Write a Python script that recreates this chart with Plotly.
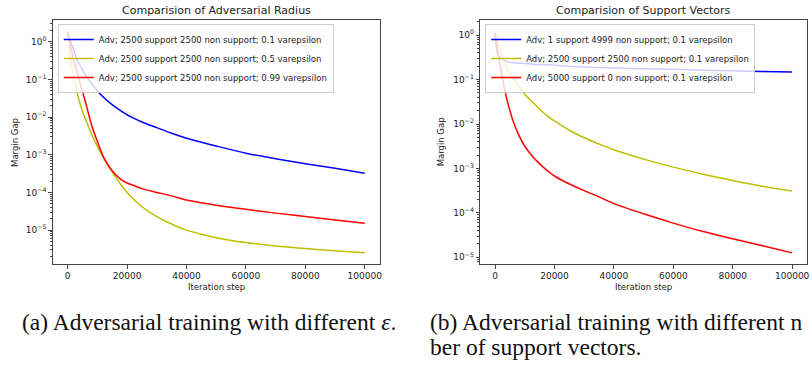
import plotly.graph_objects as go

# ---------------- data ----------------
steps_a = [0, 1000, 2000, 3000, 4000, 5000, 6000, 8000, 10000, 12000, 14000, 16000,
           18000, 20000, 22000, 25000, 30000, 35000, 40000, 45000, 50000, 60000, 70000, 80000,
           90000, 100000]
gap_a_eps01 = [1.8, 1.0, 0.631, 0.355, 0.251, 0.178, 0.132, 0.0794, 0.0501, 0.0339, 0.0245, 0.0186,
               0.0145, 0.0115, 0.0095, 0.00741, 0.00525, 0.00372, 0.00275, 0.00215, 0.0017, 0.0011,
               0.00078, 0.000575, 0.000437, 0.000324]
gap_a_eps05 = [1.8, 0.316, 0.126, 0.0501, 0.0251, 0.0141, 0.00891, 0.00355, 0.00166, 0.000832,
               0.000468, 0.000263, 0.000158, 0.0001, 6.8e-5, 4.17e-5, 2.29e-5, 1.45e-5, 1.0e-5,
               7.8e-6, 6.3e-6, 4.68e-6, 3.8e-6, 3.24e-6, 2.82e-6, 2.51e-6]
gap_a_eps099 = [1.8, 0.794, 0.316, 0.178, 0.0891, 0.0468, 0.0251, 0.00631, 0.00224, 0.000891,
                0.000479, 0.000302, 0.000219, 0.000178, 0.000155, 0.000126, 0.0001, 8.1e-5, 6.3e-5,
                5.3e-5, 4.57e-5, 3.55e-5, 2.82e-5, 2.29e-5, 1.86e-5, 1.51e-5]

steps_b = [0, 500, 1000, 2000, 3000, 4000, 5000, 6000, 8000, 10000, 12000, 14000, 16000, 18000,
           20000, 25000, 30000, 35000, 40000, 50000, 60000, 70000, 80000, 90000, 100000]
gap_b_sv1 = [1.1, 0.501, 0.355, 0.295, 0.269, 0.257, 0.245, 0.240, 0.234, 0.229, 0.224, 0.219,
             0.216, 0.214, 0.209, 0.2, 0.191, 0.186, 0.182, 0.174, 0.17, 0.162, 0.158, 0.151, 0.148]
gap_b_sv2500 = [1.1, 0.832, 0.631, 0.398, 0.263, 0.186, 0.141, 0.11, 0.0708, 0.0468, 0.0339, 0.0251,
                0.0186, 0.0145, 0.0117, 0.00724, 0.0049, 0.00355, 0.00263, 0.00162, 0.00107,
                0.000741, 0.000537, 0.000398, 0.000309]
gap_b_sv5000 = [1.1, 0.631, 0.398, 0.158, 0.0708, 0.0355, 0.02, 0.012, 0.00562, 0.00316, 0.00209,
                0.00148, 0.0011, 0.000851, 0.000676, 0.000447, 0.000316, 0.000229, 0.000162,
                9.55e-5, 5.89e-5, 3.8e-5, 2.63e-5, 1.82e-5, 1.26e-5]

names_a = ["Adv; 2500 support 2500 non support; 0.1 varepsilon",
           "Adv; 2500 support 2500 non support; 0.5 varepsilon",
           "Adv; 2500 support 2500 non support; 0.99 varepsilon"]
names_b = ["Adv; 1 support 4999 non support; 0.1 varepsilon",
           "Adv; 2500 support 2500 non support; 0.1 varepsilon",
           "Adv; 5000 support 0 non support; 0.1 varepsilon"]
colors = ["#0000ff", "#bfbf00", "#ff0000"]

x_tickvals = [0, 20000, 40000, 60000, 80000, 100000]
x_ticktext = ["0", "20000", "40000", "60000", "80000", "100000"]
y_exps = [0, -1, -2, -3, -4, -5]
y_ticktext = ["10<sup>0</sup>", "10<sup>−1</sup>", "10<sup>−2</sup>", "10<sup>−3</sup>",
              "10<sup>−4</sup>", "10<sup>−5</sup>"]

# ---------------- figure ----------------
W, H = 812, 368
FONT = "DejaVu Sans"
fig = go.Figure()

for ys, nm, c in zip([gap_a_eps01, gap_a_eps05, gap_a_eps099], names_a, colors):
    fig.add_trace(go.Scatter(x=steps_a, y=ys, name=nm, mode="lines",
                             line=dict(color=c, width=1.5, shape="spline", smoothing=0.8),
                             xaxis="x", yaxis="y", legend="legend"))
for ys, nm, c in zip([gap_b_sv1, gap_b_sv2500, gap_b_sv5000], names_b, colors):
    fig.add_trace(go.Scatter(x=steps_b, y=ys, name=nm, mode="lines",
                             line=dict(color=c, width=1.5, shape="spline", smoothing=0.8),
                             xaxis="x2", yaxis="y2", legend="legend2"))

def px(v):
    return v / W

def py(v):
    return 1 - v / H

minor_vals = [d * 10.0 ** k for k in range(-7, 1) for d in range(2, 10)]

axis_common = dict(showline=True, linecolor="#444", linewidth=1, mirror=True,
                   ticks="outside", ticklen=3.5, tickcolor="#444", tickwidth=0.8,
                   showgrid=False, zeroline=False,
                   tickfont=dict(family=FONT, size=9, color="#222"))

xa = dict(axis_common, range=[-5000, 105000], tickmode="array",
          tickvals=x_tickvals, ticktext=x_ticktext)
ya_minor = dict(ticks="outside", ticklen=2, tickcolor="#444", tickwidth=0.6,
                tickmode="array", tickvals=minor_vals, showgrid=False)
ya = dict(axis_common, type="log", tickmode="array",
          tickvals=[10.0 ** e for e in y_exps], ticktext=y_ticktext, minor=ya_minor)

L1, R1 = 53, 381
L2, R2 = 482, 810
T, B = 20, 264

LEG = dict(xanchor="left", yanchor="top",
           bgcolor="rgba(255,255,255,0.8)", bordercolor="#cccccc", borderwidth=1,
           font=dict(family=FONT, size=8.5, color="#222"), itemwidth=30, tracegroupgap=0)

fig.update_layout(
    width=W, height=H,
    margin=dict(l=0, r=0, t=0, b=0),
    paper_bgcolor="white", plot_bgcolor="white",
    font=dict(family=FONT, size=9, color="#222"),
    xaxis=dict(xa, domain=[px(L1), px(R1)], anchor="y"),
    yaxis=dict(ya, domain=[py(B), py(T)], anchor="x", range=[-5.9, 0.576]),
    xaxis2=dict(xa, domain=[px(L2), px(R2)], anchor="y2"),
    yaxis2=dict(ya, domain=[py(B), py(T)], anchor="x2", range=[-5.15, 0.34]),
    legend=dict(LEG, x=px(58), y=py(24)),
    legend2=dict(LEG, x=px(487), y=py(24)),
    showlegend=True,
)

ann = []
TXT = dict(family=FONT, color="#222")
ann.append(dict(text="Comparision of Adversarial Radius", x=px((L1 + R1) / 2), y=py(10),
                font=dict(TXT, size=11)))
ann.append(dict(text="Comparision of Support Vectors", x=px((L2 + R2) / 2), y=py(10),
                font=dict(TXT, size=11)))
for cx in [(L1 + R1) / 2, (L2 + R2) / 2]:
    ann.append(dict(text="Iteration step", x=px(cx), y=py(287), font=dict(TXT, size=8.5)))
for lx in [15, 443]:
    ann.append(dict(text="Margin Gap", x=px(lx), y=py((T + B) / 2), textangle=-90,
                    font=dict(TXT, size=8.5)))
for a in ann:
    a.update(xref="paper", yref="paper", showarrow=False, xanchor="center", yanchor="middle")

CAP = dict(family="Liberation Serif", size=23.5, color="#111")
cap_items = [("(a) Adversarial training with different <i>ε</i>.", 20, 322),
             ("(b) Adversarial training with different n", 430, 322),
             ("ber of support vectors.", 430, 347)]
for t, x0, y0 in cap_items:
    ann.append(dict(text=t, x=px(x0), y=py(y0), xref="paper", yref="paper", showarrow=False,
                    xanchor="left", yanchor="middle", font=CAP))
fig.update_layout(annotations=ann)

fig.write_html("out.html", config={"displayModeBar": False},
               post_script="document.body.style.margin='0';document.body.style.padding='0';")
